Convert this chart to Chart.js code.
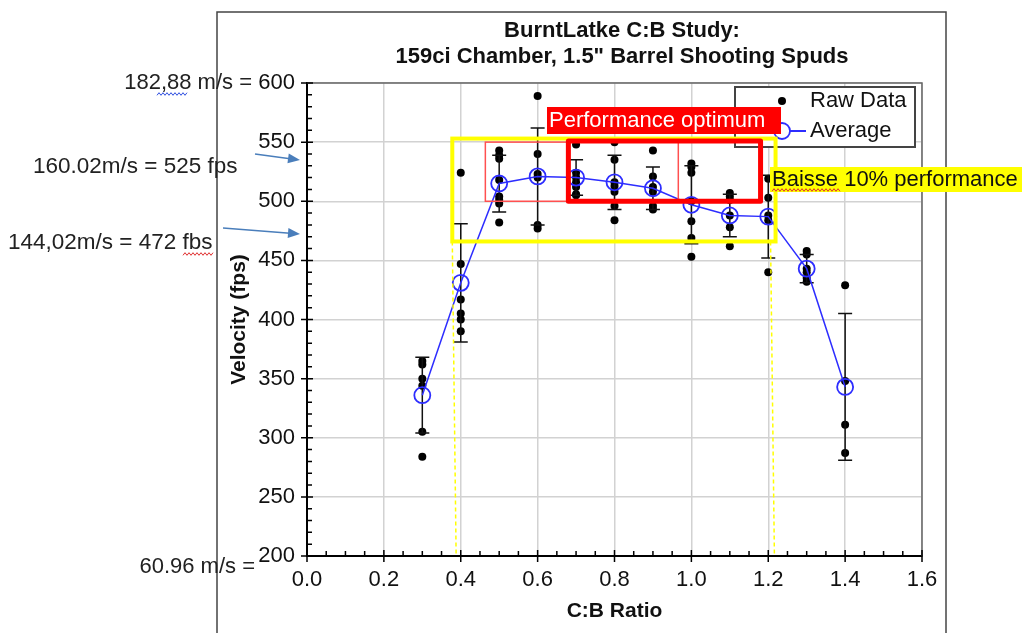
<!DOCTYPE html>
<html>
<head>
<meta charset="utf-8">
<script src="https://cdn.jsdelivr.net/npm/chart.js@4.4.0/dist/chart.umd.min.js"></script>
<style>
  html, body { margin: 0; padding: 0; background: #fff; }
  #wrap { position: relative; width: 1022px; height: 633px; }
</style>
</head>
<body>
<div id="wrap"><canvas id="cbChart"></canvas></div>
<script>
// C:B ratio of each test group
const ratios = [0.3, 0.4, 0.5, 0.6, 0.7, 0.8, 0.9, 1.0, 1.1, 1.2, 1.3, 1.4];

// individual shots per group (fps)
const rawShots = [
    [365, 362, 350, 344, 305, 284],
    [524, 447, 417, 405, 400, 390],
    [543, 539, 536, 518, 504, 501, 498, 482],
    [589, 540, 523, 520, 480, 477],
    [548, 524, 520, 516, 512, 506, 505],
    [550, 535, 516, 513, 508, 496, 484],
    [543, 521, 512, 508, 496, 493],
    [532, 529, 524, 500, 483, 469, 453],
    [507, 504, 501, 488, 478, 462],
    [519, 503, 488, 484, 440],
    [458, 455, 443, 440, 435, 432],
    [429, 348, 311, 287]
];

// group averages and error bar half-lengths (fps)
const averages = [336, 431, 515, 521, 520, 516, 511, 497, 488, 487, 443, 343];
const errBars = [32, 50, 24, 41, 15, 23, 18, 33, 18, 35, 12, 62];

// axis ticks
const yTickValues = [200, 250, 300, 350, 400, 450, 500, 550, 600];
const xTickLabels = ['0.0', '0.2', '0.4', '0.6', '0.8', '1.0', '1.2', '1.4', '1.6'];

const FONT = 'Arial, "Liberation Sans", sans-serif';

function rawPoints() {
    const pts = [];
    ratios.forEach((r, i) => rawShots[i].forEach(v => pts.push({ x: r, y: v })));
    return pts;
}

function wavy(ctx, x0, x1, yy, color) {
    ctx.save();
    ctx.strokeStyle = color;
    ctx.lineWidth = 1;
    ctx.beginPath();
    for (let xx = x0, k = 0; xx <= x1; xx += 2, k++) {
        const py = yy + (k % 2 ? -1.3 : 1.3);
        if (k === 0) ctx.moveTo(xx, py); else ctx.lineTo(xx, py);
    }
    ctx.stroke();
    ctx.restore();
}

function arrow(ctx, x0, y0, x1, y1) {
    const ang = Math.atan2(y1 - y0, x1 - x0);
    ctx.save();
    ctx.strokeStyle = '#4a7ebb';
    ctx.fillStyle = '#4a7ebb';
    ctx.lineWidth = 1.5;
    ctx.beginPath();
    ctx.moveTo(x0, y0);
    ctx.lineTo(x1 - 10 * Math.cos(ang), y1 - 10 * Math.sin(ang));
    ctx.stroke();
    ctx.beginPath();
    ctx.moveTo(x1, y1);
    ctx.lineTo(x1 - 12 * Math.cos(ang) + 5 * Math.sin(ang), y1 - 12 * Math.sin(ang) - 5 * Math.cos(ang));
    ctx.lineTo(x1 - 12 * Math.cos(ang) - 5 * Math.sin(ang), y1 - 12 * Math.sin(ang) + 5 * Math.cos(ang));
    ctx.closePath();
    ctx.fill();
    ctx.restore();
}

// white page, outer chart frame and the two-line title
const backdrop = {
    id: 'backdrop',
    beforeDraw(chart) {
        const ctx = chart.ctx;
        ctx.save();
        ctx.fillStyle = '#fff';
        ctx.fillRect(0, 0, chart.width, chart.height);
        ctx.strokeStyle = '#444';
        ctx.lineWidth = 1.5;
        ctx.strokeRect(217, 12, 729, 640);
        ctx.fillStyle = '#111';
        ctx.font = 'bold 22px ' + FONT;
        ctx.textAlign = 'center';
        ctx.textBaseline = 'middle';
        ctx.fillText('BurntLatke C:B Study:', 622, 31);
        ctx.fillText('159ci Chamber, 1.5" Barrel Shooting Spuds', 622, 57);
        ctx.restore();
    }
};

// error bars go under the average markers
const errorBars = {
    id: 'errorBars',
    beforeDatasetDraw(chart, args) {
        if (args.index !== 0) return;
        const { ctx, scales: { x, y } } = chart;
        ctx.save();
        ctx.strokeStyle = '#111';
        ctx.lineWidth = 1.5;
        ratios.forEach((r, i) => {
            const px = x.getPixelForValue(r);
            const top = y.getPixelForValue(averages[i] + errBars[i]);
            const bot = y.getPixelForValue(averages[i] - errBars[i]);
            ctx.beginPath();
            ctx.moveTo(px, top); ctx.lineTo(px, bot);
            ctx.moveTo(px - 7, top); ctx.lineTo(px + 7, top);
            ctx.moveTo(px - 7, bot); ctx.lineTo(px + 7, bot);
            ctx.stroke();
        });
        ctx.restore();
    }
};

// plot frame, tick marks, legend and the hand-drawn annotations
const overlay = {
    id: 'overlay',
    afterDraw(chart) {
        const { ctx, chartArea: a, scales: { x, y } } = chart;
        ctx.save();

        // plot frame top / right
        ctx.strokeStyle = '#666';
        ctx.lineWidth = 1.5;
        ctx.beginPath();
        ctx.moveTo(a.left, a.top); ctx.lineTo(a.right, a.top); ctx.lineTo(a.right, a.bottom);
        ctx.stroke();

        // major + minor tick marks
        ctx.strokeStyle = '#000';
        ctx.lineWidth = 1.5;
        ctx.beginPath();
        for (let v = 200; v <= 600; v += 10) {
            const py = y.getPixelForValue(v);
            const major = v % 50 === 0;
            ctx.moveTo(major ? a.left - 6 : a.left, py);
            ctx.lineTo(a.left + (major ? 6 : 5), py);
        }
        for (let i = 0; i <= 32; i++) {
            const px = x.getPixelForValue(i * 0.05);
            const major = i % 4 === 0;
            ctx.moveTo(px, major ? a.bottom + 6 : a.bottom);
            ctx.lineTo(px, a.bottom - (major ? 6 : 5));
        }
        ctx.stroke();

        // legend
        const ds = chart.data.datasets;
        ctx.fillStyle = '#fff';
        ctx.fillRect(735, 87, 180, 60);
        ctx.strokeStyle = '#444';
        ctx.lineWidth = 2;
        ctx.strokeRect(735, 87, 180, 60);
        ctx.fillStyle = '#000';
        ctx.beginPath(); ctx.arc(782, 101, 4, 0, Math.PI * 2); ctx.fill();
        ctx.strokeStyle = ds[0].borderColor;
        ctx.lineWidth = 1.8;
        ctx.beginPath(); ctx.moveTo(762, 131); ctx.lineTo(806, 131); ctx.stroke();
        ctx.fillStyle = '#fff';
        ctx.beginPath(); ctx.arc(782, 131, 8, 0, Math.PI * 2); ctx.fill(); ctx.stroke();
        ctx.fillStyle = '#111';
        ctx.font = '22px ' + FONT;
        ctx.textBaseline = 'middle';
        ctx.textAlign = 'left';
        ctx.fillText(ds[1].label, 810, 101);
        ctx.fillText(ds[0].label, 810, 131);

        // yellow "10 % drop" box with its guide lines
        ctx.strokeStyle = '#ffff00';
        ctx.lineWidth = 4;
        const yl = x.getPixelForValue(0.378), yr = x.getPixelForValue(1.219);
        const yt = y.getPixelForValue(553), yb = y.getPixelForValue(466);
        ctx.strokeRect(yl, yt, yr - yl, yb - yt);
        ctx.lineWidth = 1.5;
        ctx.setLineDash([4, 3]);
        ctx.beginPath();
        ctx.moveTo(yl, yb); ctx.lineTo(x.getPixelForValue(0.388), a.bottom);
        ctx.moveTo(x.getPixelForValue(1.206), yb); ctx.lineTo(x.getPixelForValue(1.216), a.bottom);
        ctx.stroke();
        ctx.setLineDash([]);

        // thin red box
        ctx.strokeStyle = '#ff5050';
        ctx.lineWidth = 1.5;
        const r0 = x.getPixelForValue(0.464), r1 = x.getPixelForValue(0.966);
        const rt = y.getPixelForValue(550), rb = y.getPixelForValue(500);
        ctx.strokeRect(r0, rt, r1 - r0, rb - rt);

        // thick red "optimum" box
        ctx.strokeStyle = '#ff0000';
        ctx.lineWidth = 5;
        ctx.lineJoin = 'round';
        const o0 = x.getPixelForValue(0.68), o1 = x.getPixelForValue(1.18);
        const ot = y.getPixelForValue(551), ob = y.getPixelForValue(500);
        ctx.strokeRect(o0, ot, o1 - o0, ob - ot);

        // labels
        ctx.font = '22px ' + FONT;
        ctx.fillStyle = '#ff0000';
        ctx.fillRect(547, 107, 234, 27);
        ctx.fillStyle = '#fff';
        ctx.fillText('Performance optimum', 549, 121);
        ctx.fillStyle = '#ffff00';
        ctx.fillRect(770, 167, 260, 25);
        ctx.fillStyle = '#111';
        ctx.fillText('Baisse 10% performance', 772, 180);
        wavy(ctx, 772, 840, 190, '#e03030');

        // metric conversions on the left
        ctx.fillStyle = '#222';
        ctx.textAlign = 'right';
        ctx.fillText('182,88 m/s =', 252, y.getPixelForValue(600));
        ctx.fillText('60.96 m/s =', 255, 567);
        ctx.textAlign = 'left';
        ctx.font = '22.5px ' + FONT;
        ctx.fillText('160.02m/s = 525 fps', 33, 167);
        ctx.fillText('144,02m/s = 472 fbs', 8, 243);
        wavy(ctx, 157, 188, 94, '#3050e0');
        wavy(ctx, 183, 214, 254, '#e03030');
        arrow(ctx, 255, 154, 300, 160);
        arrow(ctx, 223, 228, 300, 234);

        ctx.restore();
    }
};

function createChart() {
    const ctx = document.getElementById('cbChart').getContext('2d');
    new Chart(ctx, {
        type: 'scatter',
        data: {
            datasets: [
                {
                    label: 'Average',
                    data: ratios.map((r, i) => ({ x: r, y: averages[i] })),
                    showLine: true,
                    borderColor: 'rgb(45, 45, 255)',
                    borderWidth: 1.5,
                    pointRadius: 8,
                    pointBorderWidth: 1.8,
                    pointBackgroundColor: 'rgba(0, 0, 0, 0)',
                    pointBorderColor: 'rgb(45, 45, 255)'
                },
                {
                    label: 'Raw Data',
                    data: rawPoints(),
                    pointRadius: 4,
                    borderWidth: 0,
                    backgroundColor: '#000'
                }
            ]
        },
        options: {
            responsive: true,
            maintainAspectRatio: false,
            animation: false,
            layout: { padding: { left: 218, top: 83, right: 100, bottom: 0 } },
            plugins: {
                legend: { display: false },
                tooltip: { enabled: false },
                title: { display: false }
            },
            scales: {
                x: {
                    type: 'linear',
                    min: 0,
                    max: 1.6,
                    afterFit: s => { s.height = 77; },
                    afterBuildTicks: s => { s.ticks = xTickLabels.map(t => ({ value: parseFloat(t) })); },
                    ticks: {
                        padding: 11,
                        color: '#111',
                        font: { family: FONT, size: 22 },
                        callback: (v, i) => xTickLabels[i]
                    },
                    grid: { color: '#d2d2d2', lineWidth: 1.5, drawTicks: false },
                    border: { color: '#000', width: 2 },
                    title: {
                        display: true,
                        text: 'C:B Ratio',
                        color: '#111',
                        font: { family: FONT, size: 21, weight: 'bold' },
                        padding: { top: 0, bottom: 9 }
                    }
                },
                y: {
                    type: 'linear',
                    min: 200,
                    max: 600,
                    afterFit: s => { s.width = 89; },
                    afterBuildTicks: s => { s.ticks = yTickValues.map(v => ({ value: v })); },
                    ticks: {
                        padding: 12,
                        color: '#111',
                        font: { family: FONT, size: 22 }
                    },
                    grid: { color: '#d2d2d2', lineWidth: 1.5, drawTicks: false },
                    border: { color: '#000', width: 2 },
                    title: {
                        display: true,
                        text: 'Velocity (fps)',
                        color: '#111',
                        font: { family: FONT, size: 21, weight: 'bold' },
                        padding: { top: 9, bottom: 0 }
                    }
                }
            }
        },
        plugins: [backdrop, errorBars, overlay]
    });
}

window.addEventListener('load', createChart);
</script>
</body>
</html>
